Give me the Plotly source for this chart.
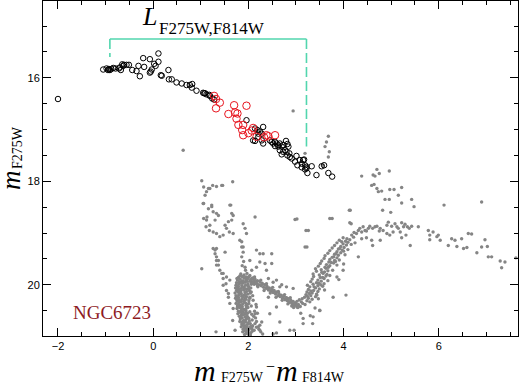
import plotly.graph_objects as go

# ---------------- data ----------------
# Horizontal-branch stars (black open circles): colour, magnitude
hb_x = [-1.05, -0.98, -0.93, -0.91, -0.84, -0.79, -0.72, -0.68, -0.70, -0.65, -0.61, -0.63,
        -0.56, -0.51, -0.44, -0.35, -0.31, -0.21, -0.07, -0.19, -0.28, -0.07, -0.05, -0.03,
        0.02, 0.05, 0.11, 0.11, 0.16, 0.18, 0.32, 0.33, 0.39, 0.49, 0.60, 0.70, 0.77, 0.82,
        0.81, 0.91, 1.05, 1.09, 1.12, 1.19, 1.24, 1.28, 1.18, 1.07, 1.96, 2.14, 2.19, 2.24,
        2.31, 2.28, 2.31, 2.21, 2.14, 2.45, 2.49, 2.52, 2.56, 2.59, 2.63, 2.66, 2.70, 2.73,
        2.79, 2.82, 2.84, 2.77, 2.80, 2.82, 2.86, 2.87, 2.91, 2.73, 2.66, 2.70, 2.63, 2.56,
        3.01, 3.08, 3.12, 3.15, 3.19, 3.22, 3.12, 3.19, 3.03, 2.98, 3.24, 3.33, 3.43, 3.54,
        3.59, 3.68, 3.76, 3.22, 3.17, -2.00, 2.21, 2.28, 2.10, -0.95, -0.88]
hb_y = [15.84, 15.82, 15.83, 15.85, 15.81, 15.82, 15.82, 15.85, 15.80, 15.74, 15.75, 15.77,
        15.75, 15.75, 15.85, 15.87, 15.77, 15.62, 15.64, 15.79, 15.97, 15.90, 15.88, 15.84,
        15.73, 15.77, 15.53, 15.69, 15.95, 15.96, 15.85, 16.03, 16.03, 16.09, 16.11, 16.14,
        16.14, 16.12, 16.19, 16.25, 16.29, 16.30, 16.32, 16.35, 16.40, 16.42, 16.33, 16.30,
        16.82, 16.98, 17.01, 17.04, 16.95, 17.08, 17.27, 17.08, 17.22, 17.21, 17.24, 17.27,
        17.24, 17.27, 17.30, 17.27, 17.33, 17.30, 17.22, 17.28, 17.33, 17.40, 17.43, 17.50,
        17.46, 17.53, 17.56, 17.43, 17.40, 17.48, 17.33, 17.32, 17.51, 17.59, 17.66, 17.59,
        17.69, 17.72, 17.73, 17.77, 17.69, 17.62, 17.84, 17.71, 17.88, 17.71, 17.69, 17.84,
        17.91, 17.75, 17.58, 16.41, 17.14, 17.21, 17.21, 15.85, 15.83]

# Selected stars (red open circles)
red_x = [1.28, 1.32, 1.40, 1.32, 1.58, 1.70, 1.96, 1.72, 1.77, 1.75, 1.79, 1.89, 1.87,
         1.89, 2.00, 2.10, 2.07, 2.38, 2.42, 2.56, 2.33, 2.17]
red_y = [16.35, 16.41, 16.48, 16.59, 16.70, 16.53, 16.54, 16.67, 16.69, 16.79, 16.91, 16.91,
         17.01, 17.11, 17.07, 16.97, 17.02, 17.11, 17.13, 17.11, 17.15, 17.14]

# Cluster CMD (grey dots), grouped by sequence: (colour, magnitude)
gray_ms = [
    (1.84, 19.79), (1.91, 19.81), (1.97, 19.78), (2.03, 19.82), (1.79, 19.86), (1.87, 19.84),
    (1.94, 19.87), (2.01, 19.85), (2.07, 19.88), (1.77, 19.91), (1.83, 19.89), (1.89, 19.92),
    (1.95, 19.90), (2.03, 19.93), (2.11, 19.91), (1.75, 19.96), (1.81, 19.94), (1.88, 19.97),
    (1.93, 19.95), (1.99, 19.98), (2.06, 19.94), (2.15, 19.97), (1.74, 20.01), (1.80, 19.99),
    (1.86, 20.02), (1.94, 20.01), (2.00, 20.03), (2.06, 19.99), (2.19, 20.02), (1.73, 20.06),
    (1.79, 20.04), (1.85, 20.07), (1.91, 20.05), (1.97, 20.08), (2.05, 20.06), (1.75, 20.11),
    (1.80, 20.09), (1.84, 20.12), (1.90, 20.10), (1.96, 20.13), (2.02, 20.11), (1.72, 20.16),
    (1.78, 20.14), (1.85, 20.17), (1.93, 20.15), (1.99, 20.18), (1.74, 20.21), (1.80, 20.19),
    (1.86, 20.22), (1.90, 20.20), (1.96, 20.23), (2.09, 20.21), (1.73, 20.26), (1.79, 20.24),
    (1.87, 20.27), (1.93, 20.25), (1.76, 20.31), (1.81, 20.29), (1.85, 20.32), (1.91, 20.30),
    (2.01, 20.31), (1.74, 20.36), (1.80, 20.34), (1.88, 20.37), (1.94, 20.35), (1.77, 20.41),
    (1.83, 20.39), (1.87, 20.42), (1.95, 20.40), (2.06, 20.41), (1.76, 20.46), (1.82, 20.44),
    (1.90, 20.47), (1.96, 20.45), (1.79, 20.51), (1.85, 20.49), (1.89, 20.52), (1.95, 20.50),
    (2.13, 20.51), (1.78, 20.56), (1.86, 20.54), (1.92, 20.57), (1.98, 20.55), (1.81, 20.61),
    (1.85, 20.59), (1.93, 20.62), (1.97, 20.60), (2.11, 20.61), (1.83, 20.66), (1.87, 20.64),
    (1.95, 20.67), (2.01, 20.65), (1.82, 20.71), (1.90, 20.69), (1.94, 20.72), (2.02, 20.70),
    (2.17, 20.71), (1.86, 20.76), (1.90, 20.74), (1.98, 20.77), (2.04, 20.75), (1.85, 20.81),
    (1.93, 20.79), (1.97, 20.82), (2.05, 20.80), (2.21, 20.81), (1.89, 20.86), (1.93, 20.84),
    (2.01, 20.87), (2.07, 20.85), (1.88, 20.91), (1.96, 20.89), (2.00, 20.92), (2.08, 20.90),
    (2.26, 20.91), (1.92, 20.96), (1.96, 20.94), (2.04, 20.97),
    (1.82, 19.83), (1.99, 19.88), (1.86, 19.93), (2.09, 19.96), (1.78, 20.03), (1.92, 20.08),
    (1.83, 20.15), (2.04, 20.16), (1.77, 20.23), (1.95, 20.28), (1.84, 20.33), (1.98, 20.38),
    (1.80, 20.43), (1.93, 20.48), (1.88, 20.58), (1.99, 20.63), (1.89, 20.78), (2.02, 20.83),
    (1.92, 20.87), (1.99, 20.95), (2.08, 20.68), (2.14, 20.75), (2.22, 20.86), (2.03, 20.52),
    (2.16, 20.38), (2.10, 20.30),
    (1.76, 19.88), (1.90, 19.86), (2.05, 19.90), (1.84, 19.96), (1.97, 19.93), (2.12, 19.99),
    (1.77, 20.08), (1.88, 20.04), (2.01, 20.07), (1.82, 20.18), (1.94, 20.19), (2.06, 20.14),
    (1.76, 20.28), (1.89, 20.23), (2.03, 20.26), (1.79, 20.38), (1.91, 20.33), (2.01, 20.36),
    (1.86, 20.45), (1.99, 20.44), (1.82, 20.53), (1.94, 20.55), (2.07, 20.57), (1.84, 20.63),
    (1.96, 20.65), (1.87, 20.72), (1.99, 20.74), (1.91, 20.81), (2.09, 20.79), (1.94, 20.90),
    (2.05, 20.93), (1.98, 20.86), (2.12, 20.88), (2.15, 20.64), (2.19, 20.55), (2.24, 20.78),
    (2.30, 20.95),
]
gray_sgb = [
    (2.09, 19.87), (2.12, 19.93), (2.14, 19.89), (2.17, 19.97), (2.19, 19.92), (2.22, 20.00),
    (2.24, 19.94), (2.27, 20.02), (2.29, 19.97), (2.32, 20.05), (2.34, 20.00), (2.37, 20.07),
    (2.39, 20.03), (2.42, 20.10), (2.44, 20.06), (2.47, 20.12), (2.49, 20.09), (2.52, 20.15),
    (2.54, 20.11), (2.57, 20.18), (2.59, 20.14), (2.62, 20.21), (2.64, 20.17), (2.67, 20.23),
    (2.69, 20.20), (2.72, 20.26), (2.74, 20.22), (2.77, 20.29), (2.79, 20.25), (2.82, 20.31),
    (2.84, 20.27), (2.87, 20.34), (2.89, 20.30), (2.92, 20.37), (2.94, 20.32), (2.97, 20.40),
    (2.99, 20.35), (3.02, 20.43), (2.16, 19.94), (2.28, 19.99), (2.41, 20.07), (2.53, 20.13),
    (2.66, 20.21), (2.78, 20.27), (2.91, 20.34), (3.05, 20.38),
    (2.13, 19.85), (2.26, 19.91), (2.38, 19.98), (2.51, 20.05), (2.63, 20.13), (2.76, 20.19),
    (2.88, 20.25), (2.20, 20.04), (2.33, 20.11), (2.46, 20.16), (2.58, 20.24), (2.71, 20.30),
    (2.83, 20.37), (2.95, 20.44),
]
gray_rgb = [
    (2.91, 20.41), (3.01, 20.39), (3.09, 20.42), (3.19, 20.38), (3.04, 20.44), (2.96, 20.37),
    (2.86, 20.34), (3.14, 20.36), (3.29, 20.33), (3.02, 20.32), (3.07, 20.29), (3.23, 20.31),
    (3.34, 20.28), (3.13, 20.27), (3.18, 20.24), (3.26, 20.26), (3.41, 20.23), (3.47, 20.27),
    (3.21, 20.19), (3.31, 20.21), (3.43, 20.18), (3.24, 20.22), (3.23, 20.14), (3.34, 20.16),
    (3.46, 20.13), (3.26, 20.09), (3.37, 20.11), (3.49, 20.08), (3.31, 20.12), (3.29, 20.04),
    (3.41, 20.06), (3.56, 20.03), (3.24, 20.01), (3.36, 19.99), (3.46, 20.02), (3.59, 19.98),
    (3.31, 19.94), (3.43, 19.96), (3.53, 19.93), (3.34, 19.89), (3.46, 19.91), (3.59, 19.88),
    (3.67, 19.92), (3.37, 19.84), (3.51, 19.86), (3.63, 19.83), (3.36, 19.79), (3.49, 19.81),
    (3.57, 19.78), (3.71, 19.82), (3.43, 19.74), (3.54, 19.76), (3.67, 19.73), (3.41, 19.69),
    (3.53, 19.71), (3.63, 19.68), (3.77, 19.72), (3.47, 19.64), (3.61, 19.66), (3.71, 19.63),
    (3.51, 19.59), (3.64, 19.61), (3.79, 19.58), (3.86, 19.62), (3.54, 19.54), (3.69, 19.56),
    (3.81, 19.53), (3.59, 19.49), (3.71, 19.51), (3.86, 19.48), (3.91, 19.52), (3.61, 19.44),
    (3.79, 19.46), (3.89, 19.43), (3.67, 19.39), (3.81, 19.41), (3.94, 19.38), (4.03, 19.42),
    (3.71, 19.34), (3.86, 19.36), (3.97, 19.33), (3.76, 19.29), (3.89, 19.31), (4.01, 19.28),
    (4.09, 19.32), (3.81, 19.24), (3.94, 19.26), (4.06, 19.23), (3.86, 19.19), (3.99, 19.21),
    (4.09, 19.18), (4.16, 19.22), (3.91, 19.14), (4.04, 19.16), (4.13, 19.13), (3.99, 19.09),
    (4.07, 19.11), (4.21, 19.08),
    (3.44, 20.20), (3.38, 20.04), (3.48, 19.97), (3.56, 19.86), (3.60, 19.75), (3.68, 19.66),
    (3.74, 19.57), (3.76, 19.47), (3.84, 19.40), (3.92, 19.30), (3.96, 19.17), (3.28, 20.17),
    (3.11, 20.33), (3.52, 20.00), (3.65, 19.80), (3.83, 19.55), (4.00, 19.35),
    (3.30, 20.60), (3.50, 20.50), (3.60, 20.10), (3.90, 19.90), (4.00, 19.60), (4.05, 20.20),
    (3.10, 20.55), (3.40, 20.45), (2.70, 20.00), (3.35, 20.75), (3.15, 20.65), (2.80, 20.25),
]
gray_upper = [
    (4.17, 19.04), (4.22, 18.99), (4.27, 19.01), (4.31, 18.95), (4.34, 18.91), (4.38, 18.98),
    (4.41, 18.88), (4.45, 18.95), (4.48, 18.96), (4.52, 18.91), (4.55, 18.87), (4.61, 18.91),
    (4.66, 18.88), (4.70, 18.87), (4.75, 18.96), (4.77, 18.91), (4.83, 18.95), (4.91, 18.85),
    (4.94, 18.79), (5.01, 18.87), (5.08, 18.82), (5.12, 18.88), (5.15, 18.91), (5.19, 18.98),
    (5.22, 18.80), (5.26, 18.88), (5.29, 18.83), (5.31, 19.04), (5.34, 18.88), (5.38, 18.91),
    (5.43, 18.87), (5.57, 18.88), (4.91, 19.01), (5.04, 18.98), (5.22, 19.09), (4.59, 19.14),
    (4.61, 19.24), (4.31, 19.46), (4.77, 19.14), (4.97, 19.04), (4.24, 19.19), (4.38, 19.11),
    (4.48, 19.09),
    (5.78, 18.95), (5.81, 19.04), (5.88, 18.98), (5.96, 19.07), (5.99, 19.04), (6.03, 19.14),
    (5.81, 19.13), (6.20, 19.24), (6.27, 19.11), (6.34, 19.14), (6.38, 19.26), (6.48, 19.11),
    (6.52, 19.30), (6.59, 19.28), (6.62, 19.01), (6.69, 19.02), (6.80, 19.38), (6.90, 19.27),
    (6.97, 19.13), (7.02, 19.26), (7.04, 19.46), (7.11, 19.46), (7.29, 19.54), (7.32, 19.67),
    (7.39, 19.56), (7.62, 19.48),
    (4.38, 17.90), (4.62, 17.88), (4.66, 17.90), (4.70, 17.77), (4.75, 17.85), (4.96, 17.80),
    (4.59, 18.08), (4.64, 18.06), (4.70, 18.14), (4.73, 18.20), (4.80, 18.19), (4.97, 18.16),
    (5.06, 18.16), (5.22, 18.12), (5.15, 18.27), (4.87, 18.35), (4.96, 18.35), (5.22, 18.42),
    (5.43, 18.35), (5.48, 18.49), (4.82, 18.56), (4.99, 18.60), (4.12, 18.56), (4.13, 18.80),
    (6.11, 18.46), (6.90, 18.40), (5.40, 19.24),
]
gray_sparse = [
    (1.02, 17.99), (1.06, 18.11), (1.16, 18.14), (1.25, 18.08), (1.33, 18.10), (1.46, 18.08),
    (1.67, 18.01), (1.09, 18.27), (1.06, 18.43), (1.16, 18.53), (1.23, 18.46), (1.26, 18.59),
    (1.13, 18.69), (1.06, 18.72), (1.11, 18.88), (1.18, 18.95), (1.30, 18.75), (1.37, 18.66),
    (1.51, 18.85), (1.58, 18.78), (1.63, 18.46), (1.65, 18.62), (1.68, 19.01), (1.26, 19.30),
    (1.30, 19.40), (1.33, 19.53), (1.37, 19.62), (1.02, 19.69), (1.44, 19.78), (1.47, 19.88),
    (1.53, 19.98), (1.58, 20.17), (1.33, 19.30), (1.51, 19.37), (1.82, 19.14), (1.86, 19.27),
    (1.89, 19.37), (1.86, 19.46), (1.93, 19.66), (1.96, 19.85), (2.14, 18.69), (2.24, 19.56),
    (2.38, 19.72), (2.31, 19.40), (2.49, 19.59), (2.59, 19.91), (3.02, 18.73), (3.26, 18.95),
    (3.23, 19.27), (3.76, 18.72), (4.14, 18.56), (4.16, 18.82), (1.32, 20.91), (2.96, 20.88),
    (2.59, 20.93),
    (1.12, 18.20), (1.19, 18.14), (1.44, 18.08), (1.05, 18.43), (1.23, 18.49), (1.33, 18.62),
    (1.12, 18.75), (1.19, 18.85), (1.26, 18.98), (1.33, 19.01), (1.61, 18.46), (1.68, 18.66),
    (1.65, 18.75), (1.54, 18.91), (1.60, 18.98), (1.47, 19.04), (1.40, 19.07), (1.89, 18.82),
    (1.93, 18.91), (1.96, 19.01), (1.86, 19.17), (1.89, 19.27), (1.30, 19.33), (1.33, 19.46),
    (1.37, 19.53), (1.33, 19.62), (1.40, 19.72), (1.47, 19.78), (1.54, 19.85), (1.61, 19.91),
    (1.47, 20.01), (1.54, 20.11), (1.58, 20.24), (1.61, 20.36), (1.68, 20.46), (1.67, 20.69),
    (1.72, 20.88), (2.98, 18.74), (3.21, 18.95), (3.19, 19.27), (3.71, 18.72),
    (2.17, 19.33), (2.24, 19.40), (2.49, 19.40), (2.03, 19.53), (2.07, 19.72), (2.17, 19.66),
    (2.35, 19.59), (2.42, 19.88), (2.52, 19.95), (2.66, 20.04), (2.80, 20.04), (2.94, 20.07),
    (2.42, 20.24), (2.59, 20.43), (2.45, 20.56), (2.66, 20.72), (2.87, 20.88), (3.15, 20.75),
    (3.36, 20.62), (3.50, 20.49), (3.78, 20.24), (3.86, 19.85), (3.99, 19.72), (2.52, 20.95),
    (2.24, 20.88), (2.17, 20.82), (2.28, 20.72), (2.07, 20.82), (2.14, 20.56),
    (2.17, 20.43), (2.03, 20.24), (1.90, 19.55), (1.94, 19.72), (1.87, 19.63),
    (2.94, 16.64), (0.63, 17.40), (3.68, 17.13), (3.64, 17.24), (3.61, 17.33), (3.68, 17.53),
    (3.70, 17.43), (3.57, 17.69), (3.19, 17.46),
]

# Bracket marking the L(F275W,F814W) length
bracket_x = [-0.91, 3.22]
bracket_top = 15.25
bracket_left_bottom = 15.60
bracket_right_bottom = 17.33

x_ticks = [-2, 0, 2, 4, 6]
y_ticks = [16, 18, 20]
cluster_name = "NGC6723"

# ---------------- figure ----------------
gray_all = gray_ms + gray_sgb + gray_rgb + gray_upper + gray_sparse
gx = [p[0] for p in gray_all]
gy = [p[1] for p in gray_all]

W, H = 520, 386
ML, MR, MT, MB = 43, 2, 1, 50
PW, PH = W - ML - MR, H - MT - MB


def pxx(px):
    return (px - ML) / PW


def pxy(py):
    return (H - MB - py) / PH


fig = go.Figure()
fig.add_trace(go.Scatter(x=gx, y=gy, mode="markers",
                         marker=dict(size=3.4, color="#858585", line=dict(width=0)),
                         hoverinfo="skip"))
fig.add_trace(go.Scatter(x=hb_x, y=hb_y, mode="markers",
                         marker=dict(symbol="circle-open", size=5.5, color="black",
                                     line=dict(width=1, color="black"))))
fig.add_trace(go.Scatter(x=red_x, y=red_y, mode="markers",
                         marker=dict(symbol="circle-open", size=7.5, color="#e8141e",
                                     line=dict(width=1, color="#e8141e"))))

teal = "#52d6ae"
fig.add_trace(go.Scatter(x=bracket_x, y=[bracket_top, bracket_top], mode="lines",
                         line=dict(color=teal, width=1.6)))
fig.add_trace(go.Scatter(x=[bracket_x[0], bracket_x[0]], y=[bracket_top, bracket_left_bottom],
                         mode="lines", line=dict(color=teal, width=1.6, dash="10px,4px")))
fig.add_trace(go.Scatter(x=[bracket_x[1], bracket_x[1]], y=[bracket_top, bracket_right_bottom],
                         mode="lines", line=dict(color=teal, width=1.6, dash="10px,4px")))

serif = "Liberation Serif"
ann = []


def text(s, px, py, size, color="black", anchor="left", angle=0, yanchor="middle"):
    ann.append(dict(text=s, xref="paper", yref="paper", x=pxx(px), y=pxy(py),
                    xanchor=anchor, yanchor=yanchor, showarrow=False, textangle=angle,
                    font=dict(family=serif, size=size, color=color)))


# x-axis title
text("<i>m</i>", 192, 370, 30)
text("F275W", 219, 377, 14)
text("−", 264, 366, 16)
text("<i>m</i>", 274, 370, 30)
text("F814W", 300, 377, 14)
# y-axis title (rotated)
text("<i>m</i>", 11, 180, 27, anchor="center", angle=-90)
text("F275W", 17, 148, 14, anchor="center", angle=-90)
# L label
text("<i>L</i>", 140, 16, 26)
text("F275W,F814W", 157, 29, 17)
# cluster name
text(cluster_name, 71, 312, 19, color="#8e1b1f")

axis_common = dict(showline=True, linecolor="black", linewidth=1, mirror="allticks",
                   ticks="inside", ticklen=8, tickcolor="black", tickwidth=1,
                   showgrid=False, zeroline=False,
                   tickfont=dict(family="Liberation Sans", size=11, color="black"),
                   minor=dict(ticks="inside", ticklen=4, tickcolor="black", dtick=0.5,
                              showgrid=False))

fig.update_layout(
    width=W, height=H, margin=dict(l=ML, r=MR, t=MT, b=MB),
    paper_bgcolor="white", plot_bgcolor="white", showlegend=False,
    xaxis=dict(range=[-2.315, 7.664], tickvals=x_ticks, **axis_common),
    yaxis=dict(range=[20.99, 14.516], tickvals=y_ticks, **axis_common),
    annotations=ann,
)

fig.write_html("out.html",
               config={"displayModeBar": False},
               post_script="document.body.style.margin='0px';"
                           "document.body.style.overflow='hidden';")
